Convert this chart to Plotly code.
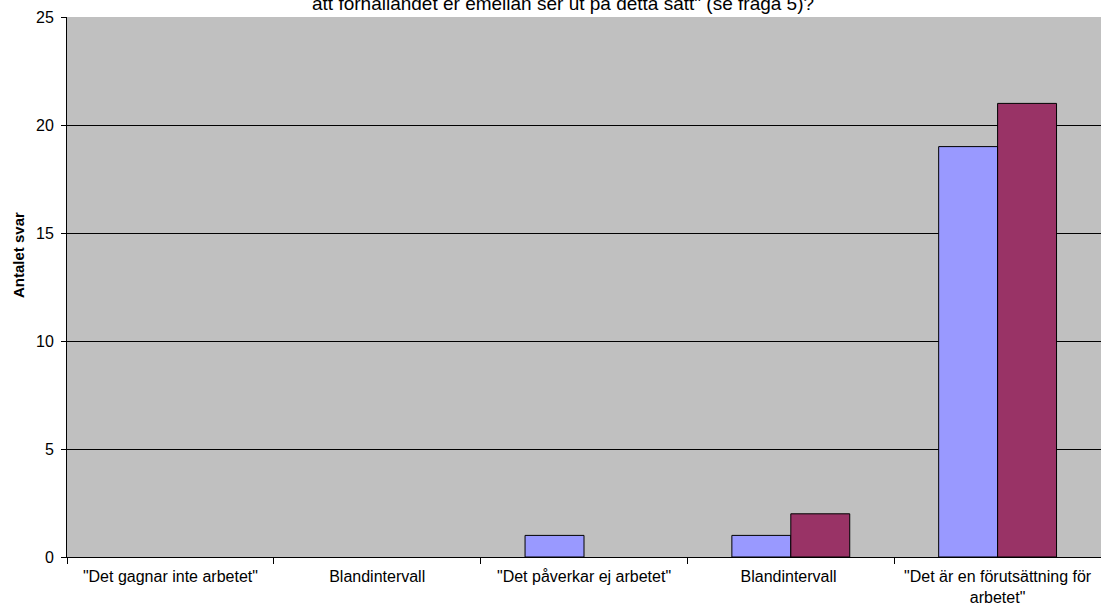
import plotly.graph_objects as go

categories = [
    '"Det gagnar inte arbetet"',
    'Blandintervall',
    '"Det påverkar ej arbetet"',
    'Blandintervall ',
    '"Det är en förutsättning för<br>arbetet"',
]
series1_name = "Serie1"
series1_values = [0, 0, 1, 1, 19]
series2_name = "Serie2"
series2_values = [0, 0, 0, 2, 21]
y_ticks = [0, 5, 10, 15, 20, 25]
title_text = 'att förhållandet er emellan ser ut på detta sätt" (se fråga 5)?'
y_title = "Antalet svar"

FONT = "Arial, Liberation Sans, sans-serif"


def outline_widths(values):
    # no visible outline for empty (zero) bars, as in the reference
    return [1 if v > 0 else 0 for v in values]


fig = go.Figure()
fig.add_trace(go.Bar(x=categories, y=series1_values, name=series1_name,
                     marker=dict(color="#9999FF",
                                 line=dict(color="#000000", width=outline_widths(series1_values)))))
fig.add_trace(go.Bar(x=categories, y=series2_values, name=series2_name,
                     marker=dict(color="#993366",
                                 line=dict(color="#000000", width=outline_widths(series2_values)))))

L, R, T, B = 67, 0, 17, 51
W, H = 1101, 608
pw = W - L - R
ph = H - T - B

fig.update_layout(
    width=W, height=H,
    margin=dict(l=L, r=R, t=T, b=B, pad=0),
    paper_bgcolor="#FFFFFF",
    plot_bgcolor="#C0C0C0",
    barmode="group",
    bargap=0.43,
    bargroupgap=0,
    showlegend=False,
    font=dict(family=FONT, size=16, color="#000000"),
)
fig.update_xaxes(
    type="category",
    tickson="boundaries",
    ticks="outside", ticklen=6, tickcolor="#000000", tickwidth=1,
    ticklabelstandoff=5,
    showline=True, linecolor="#000000", linewidth=1,
    showgrid=False,
    tickfont=dict(family=FONT, size=16, color="#000000"),
)
fig.update_yaxes(
    range=[0, 25],
    tickvals=y_ticks,
    ticks="outside", ticklen=5, tickcolor="#000000", tickwidth=1,
    ticklabelstandoff=4,
    showline=True, linecolor="#000000", linewidth=1,
    showgrid=True, gridcolor="#000000", gridwidth=1,
    zeroline=False,
    tickfont=dict(family=FONT, size=16, color="#000000"),
)
fig.add_annotation(
    text=title_text, xref="paper", yref="paper",
    x=(563 - L) / pw, y=1 + (T - 4) / ph,
    xanchor="center", yanchor="middle", showarrow=False,
    font=dict(family=FONT, size=19, color="#000000"),
)
fig.add_annotation(
    text="<b>" + y_title + "</b>", xref="paper", yref="paper",
    x=(18 - L) / pw, y=(557 - 255) / ph,
    xanchor="center", yanchor="middle", textangle=-90, showarrow=False,
    font=dict(family=FONT, size=15, color="#000000"),
)
fig.write_html("out.html")
